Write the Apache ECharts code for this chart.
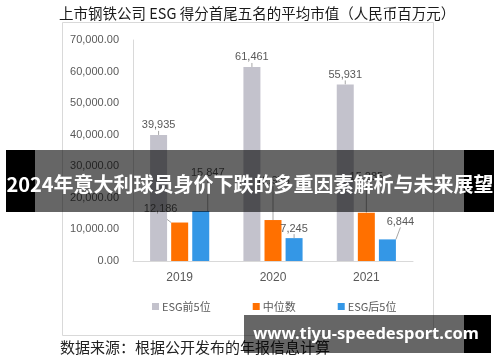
<!DOCTYPE html>
<html>
<head>
<meta charset="utf-8">
<script src="https://cdn.jsdelivr.net/npm/echarts@6/dist/echarts.min.js"></script>
<style>
html,body{margin:0;padding:0;background:#fff;}
#chart{width:500px;height:362px;}
</style>
</head>
<body>
<div id="chart"></div>
<script>
// ---- data ----
const categories = ['2019', '2020', '2021'];
const seriesNames = ['ESG前5位', '中位数', 'ESG后5位'];
const top5Values = [39935, 61461, 55931];
const medianValues = [12186, 12975, 15285];
const bottom5Values = [15847, 7245, 6844];
const yMin = 0, yMax = 70000, yInterval = 10000;
const titleText = '上市钢铁公司 ESG 得分首尾五名的平均市值（人民币百万元）';
const sourceText = '数据来源：根据公开发布的年报信息计算';
const bannerText = '2024年意大利球员身价下跌的多重因素解析与未来展望';
const watermarkText = 'www.tiyu-speedesport.com';

// ---- style ----
const colors = ['#c3c2cc', '#ff7000', '#3497e6'];
const labelShift = {
  1: [[-19, -4], [0, -30], [0, -26]],
  2: [[7, -29], [0, 0], [13, -8]]
};
const fontLatin = '"Liberation Sans", "Noto Sans CJK SC", sans-serif';
const fontCJK = '"Noto Sans CJK SC", sans-serif';
const fmtInt = v => Math.round(v).toLocaleString('en-US');
const fmtDec = v => v.toLocaleString('en-US', {minimumFractionDigits: 2, maximumFractionDigits: 2});

const chart = echarts.init(document.getElementById('chart'), null, {renderer: 'canvas'});

function barSeries(i, data) {
  return {
    name: seriesNames[i],
    type: 'bar',
    data: data,
    barWidth: 17,
    barGap: '24%',
    itemStyle: {color: colors[i]},
    label: {
      show: true,
      position: 'top',
      distance: 4,
      color: '#595959',
      fontSize: 11,
      fontFamily: fontLatin,
      formatter: p => fmtInt(p.value)
    },
    labelLine: {show: true, lineStyle: {color: '#a6a6a6', width: 1}},
    labelLayout: function (p) {
      const s = labelShift[i];
      if (!s) return {};
      const d = s[p.dataIndex];
      return {dx: d[0], dy: d[1]};
    }
  };
}

chart.setOption({
  animation: false,
  backgroundColor: '#fff',
  title: {
    text: titleText,
    left: 59,
    top: 6,
    padding: 0,
    textStyle: {fontSize: 14.5, fontWeight: 'normal', color: '#1a1a1a', fontFamily: fontCJK}
  },
  legend: {
    data: seriesNames,
    left: 147,
    top: 296,
    icon: 'rect',
    itemWidth: 7,
    itemHeight: 7,
    itemGap: 42,
    textStyle: {fontSize: 11, color: '#595959', fontFamily: fontCJK, padding: [0, 0, 0, -2]}
  },
  grid: {left: 133, right: 87, top: 40, bottom: 101},
  xAxis: {
    type: 'category',
    data: categories,
    axisLine: {lineStyle: {color: '#d9d9d9'}},
    axisTick: {show: false},
    axisLabel: {color: '#595959', fontSize: 12, fontFamily: fontLatin, margin: 11}
  },
  yAxis: {
    type: 'value',
    min: yMin,
    max: yMax,
    interval: yInterval,
    axisLine: {show: true, lineStyle: {color: '#d9d9d9'}},
    axisTick: {show: false},
    splitLine: {show: false},
    axisLabel: {color: '#595959', fontSize: 11, fontFamily: fontLatin, margin: 14, formatter: fmtDec}
  },
  series: [
    barSeries(0, top5Values),
    barSeries(1, medianValues),
    barSeries(2, bottom5Values)
  ],
  graphic: [
    {type: 'rect', shape: {x: 62.5, y: 22.5, width: 371, height: 313}, style: {fill: 'none', stroke: '#d9d9d9', lineWidth: 1}, z: -1, silent: true},
    {type: 'text', x: 60, y: 347, style: {text: sourceText, fontSize: 15, fill: '#222', fontFamily: fontCJK, verticalAlign: 'middle'}, z: 5},
    // banner
    {type: 'rect', shape: {x: 6, y: 150, width: 29, height: 62}, style: {fill: '#000'}, z: 100},
    {type: 'rect', shape: {x: 35, y: 150, width: 429, height: 62}, style: {fill: 'rgba(0,0,0,0.6)'}, z: 100},
    {type: 'rect', shape: {x: 464, y: 150, width: 30, height: 62}, style: {fill: '#000'}, z: 100},
    {type: 'text', x: 250, y: 184, style: {text: bannerText, fontSize: 20, fontWeight: 'bold', fill: '#fff', fontFamily: fontCJK, align: 'center', verticalAlign: 'middle'}, z: 101},
    // watermark
    {type: 'rect', shape: {x: 244, y: 315, width: 220, height: 38}, style: {fill: 'rgba(0,0,0,0.6)'}, z: 100},
    {type: 'rect', shape: {x: 464, y: 315, width: 27, height: 38}, style: {fill: '#000'}, z: 100},
    {type: 'text', x: 366, y: 334, style: {text: watermarkText, fontSize: 16.5, fontWeight: 'bold', fill: '#fff', fontFamily: '"Noto Sans", "DejaVu Sans", sans-serif', align: 'center', verticalAlign: 'middle'}, z: 101}
  ]
});
</script>
</body>
</html>
